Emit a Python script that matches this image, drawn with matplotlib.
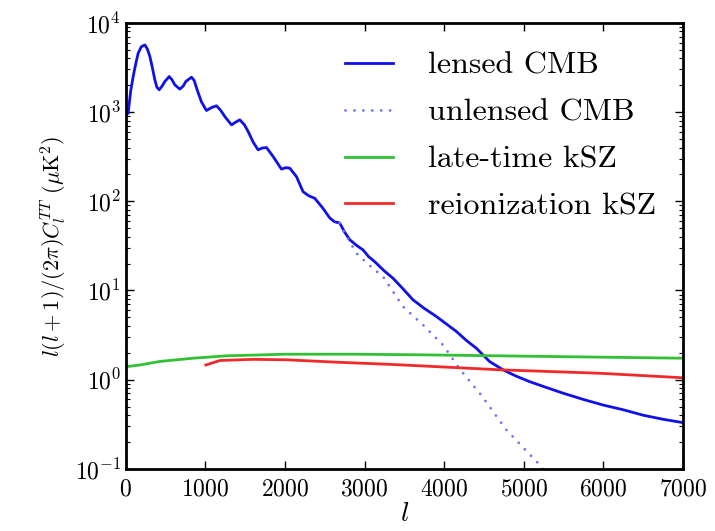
"""Angular power spectra: lensed/unlensed CMB against kSZ contributions."""

import matplotlib

matplotlib.use("Agg")
import matplotlib.pyplot as plt
from matplotlib.ticker import LogLocator, MultipleLocator

# lensed primary CMB, D_l in muK^2
ell_lensed = [29, 60, 92, 125, 155, 195, 239, 270, 302, 335, 364, 390, 419, 455, 490, 545,
              580, 616, 678, 720, 754, 825, 860, 896, 950, 1013, 1075, 1139, 1190, 1244,
              1328, 1380, 1432, 1490, 1537, 1600, 1662, 1715, 1768, 1851, 1956, 2010, 2060,
              2144, 2227, 2300, 2374, 2470, 2563, 2620, 2688, 2750, 2814, 2900, 2981, 3050,
              3128, 3250, 3358, 3480, 3609, 3750, 3903, 4030, 4154, 4280, 4405, 4570, 4740,
              4900, 5075, 5280, 5494, 5750, 5996, 6250, 6499, 6750, 7000]
dl_lensed = [972, 1700, 2500, 3500, 4570, 5400, 5660, 5100, 4190, 3100, 2300, 1900, 1775, 1950,
             2200, 2500, 2300, 2018, 1807, 1950, 2200, 2460, 2250, 1775, 1300, 1040, 1120, 1175,
             1050, 890, 718, 770, 818, 720, 605, 460, 377, 395, 400, 317, 229, 238, 235,
             189, 128, 115, 108, 85, 65, 59, 57, 45, 37, 32, 28.5, 24,
             21, 16.5, 13.7, 10.5, 7.85, 6.3, 5.1, 4.2, 3.47, 2.75, 2.25, 1.6, 1.29,
             1.1, 0.95, 0.82, 0.706, 0.6, 0.52, 0.46, 0.40, 0.36, 0.33]

# unlensed CMB only departs from the lensed curve in the damping tail
ell_unlensed = [2688, 2750, 2897, 3050, 3232, 3483, 3735, 3986, 4200, 4447, 4782, 5201, 5350]
dl_unlensed = [57, 44, 26.2, 19.5, 14.3, 6.6, 4.1, 2.45, 1.3, 0.706, 0.274, 0.111, 0.075]

ell_late = [8, 176, 427, 846, 1265, 2019, 2856, 3693, 4500, 5500, 7000]
dl_late = [1.40, 1.46, 1.60, 1.74, 1.85, 1.93, 1.93, 1.90, 1.86, 1.81, 1.74]

ell_reion = [1005, 1181, 1600, 2019, 2647, 3274, 3693, 4698, 5955, 7000]
dl_reion = [1.46, 1.64, 1.69, 1.67, 1.57, 1.49, 1.43, 1.29, 1.18, 1.05]


def main() -> None:
    plt.rcParams["font.family"] = "serif"
    plt.rcParams["font.serif"] = ["cmr10", "DejaVu Serif"]
    plt.rcParams["mathtext.fontset"] = "cm"
    plt.rcParams["axes.formatter.use_mathtext"] = True
    plt.rcParams["axes.unicode_minus"] = False

    fig = plt.figure(figsize=(7.15, 5.31), dpi=100)
    ax = fig.add_axes([0.176, 0.117, 0.779, 0.840])

    ax.plot(ell_lensed, dl_lensed, color="#1010e8", lw=2.0, label="lensed CMB")
    ax.plot(ell_unlensed, dl_unlensed, color="#7070f0", lw=2.0, dashes=(0.01, 3.2),
            dash_capstyle="round", label="unlensed CMB")
    ax.plot(ell_late, dl_late, color="#33c033", lw=2.0, label="late-time kSZ")
    ax.plot(ell_reion, dl_reion, color="#f02a2a", lw=2.0, label="reionization kSZ")

    ax.set_yscale("log")
    ax.set_xlim(0, 7000)
    ax.set_ylim(0.1, 1e4)
    ax.xaxis.set_major_locator(MultipleLocator(1000))
    ax.yaxis.set_major_locator(LogLocator(base=10, numticks=10))
    ax.yaxis.set_minor_locator(LogLocator(base=10, subs=range(2, 10), numticks=20))
    ax.tick_params(which="both", direction="in", top=True, right=True, labelsize=17)
    ax.tick_params(which="major", length=6, width=1)
    ax.tick_params(which="minor", length=3, width=0.8)
    ax.tick_params(axis="x", pad=7)
    for spine in ax.spines.values():
        spine.set_linewidth(2)

    ax.set_xlabel(r"$l$", fontsize=20, labelpad=0)
    ax.set_ylabel(r"$l(l+1)/(2\pi)C_l^{TT}\ (\mu{\rm K}^2)$", fontsize=16)

    ax.legend(loc="upper left", bbox_to_anchor=(0.342, 1.0), frameon=False, fontsize=23,
              handlelength=1.5, handletextpad=1.1, labelspacing=0.58)

    fig.savefig("out.png", dpi=100)
    plt.close(fig)


if __name__ == "__main__":
    main()
